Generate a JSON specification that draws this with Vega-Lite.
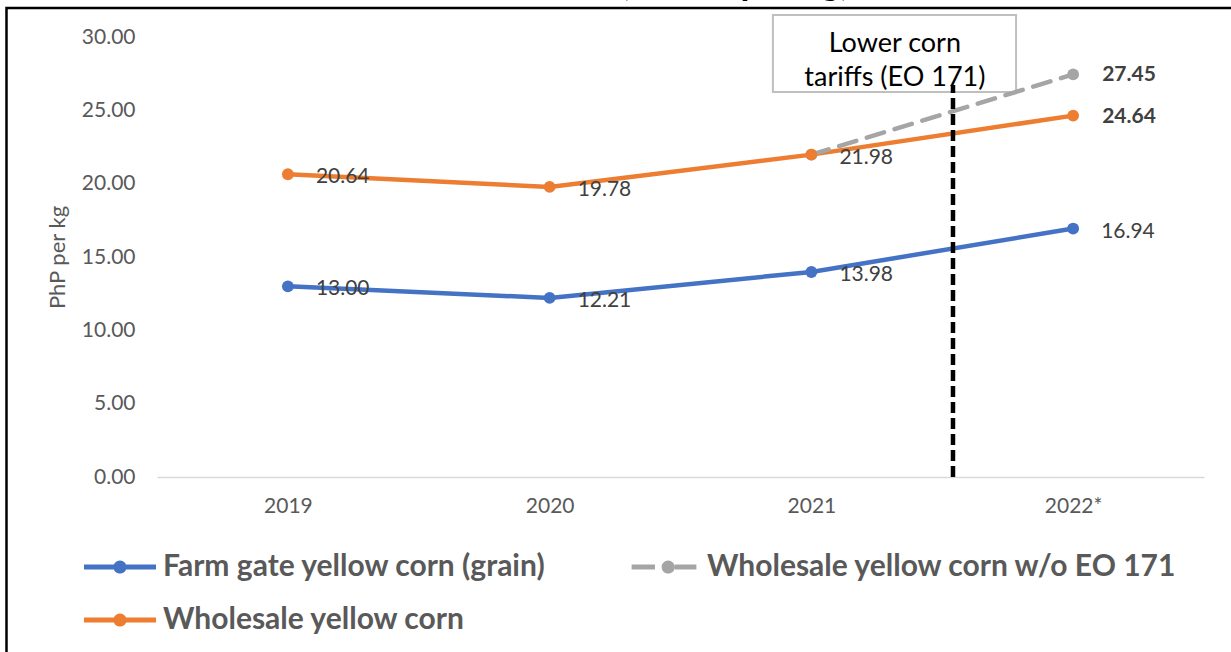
{
  "$schema": "https://vega.github.io/schema/vega-lite/v6.json",
  "width": 1047,
  "height": 440,
  "autosize": {"type": "none"},
  "padding": {"left": 157, "top": 37, "right": 27, "bottom": 175},
  "background": "#ffffff",
  "title": {
    "text": "Corn Prices (in PhP per kg)",
    "anchor": "start",
    "dx": 423,
    "offset": -24,
    "baseline": "alphabetic",
    "font": "Lato",
    "fontSize": 36,
    "fontWeight": "bold",
    "color": "#000000"
  },
  "config": {
    "view": {"stroke": null},
    "axis": {
      "labelFont": "Lato",
      "labelFontSize": 21,
      "labelColor": "#595959",
      "titleFont": "Lato",
      "titleFontSize": 22,
      "titleFontWeight": "normal",
      "titleColor": "#595959",
      "ticks": false,
      "grid": false
    }
  },
  "data": {
    "values": [
      {"year": 2021, "series": "Wholesale yellow corn w/o EO 171", "value": 21.98, "label": "none"},
      {"year": 2022, "series": "Wholesale yellow corn w/o EO 171", "value": 27.45, "label": "bold"},
      {"year": 2019, "series": "Farm gate yellow corn (grain)", "value": 13.0, "label": "regular"},
      {"year": 2020, "series": "Farm gate yellow corn (grain)", "value": 12.21, "label": "regular"},
      {"year": 2021, "series": "Farm gate yellow corn (grain)", "value": 13.98, "label": "regular"},
      {"year": 2022, "series": "Farm gate yellow corn (grain)", "value": 16.94, "label": "regular"},
      {"year": 2019, "series": "Wholesale yellow corn", "value": 20.64, "label": "regular"},
      {"year": 2020, "series": "Wholesale yellow corn", "value": 19.78, "label": "regular"},
      {"year": 2021, "series": "Wholesale yellow corn", "value": 21.98, "label": "regular"},
      {"year": 2022, "series": "Wholesale yellow corn", "value": 24.64, "label": "bold"}
    ]
  },
  "layer": [
    {
      "data": {"values": [{"x": 2017.925, "x2": 2024.5, "y": 31.98, "y2": -25}]},
      "mark": {"type": "rect", "fill": null, "stroke": "#000000", "strokeWidth": 2.5},
      "encoding": {
        "x": {"field": "x", "type": "quantitative", "title": null,
              "scale": {"domain": [2018.5, 2022.5], "nice": false, "zero": false},
              "axis": {"values": [2019, 2020, 2021, 2022], "labelExpr": "datum.value == 2022 ? '2022*' : format(datum.value, 'd')", "domainColor": "#D9D9D9", "domainWidth": 1.5, "labelPadding": 18}},
        "x2": {"field": "x2"},
        "y": {"field": "y", "type": "quantitative", "title": "PhP per kg",
              "scale": {"domain": [0, 30], "nice": false},
              "axis": {"values": [0, 5, 10, 15, 20, 25, 30], "format": ".2f", "domain": false, "labelPadding": 22, "titlePadding": 12}},
        "y2": {"field": "y2"}
      }
    },
    {
      "data": {"values": [{"x": 2020.853, "x2": 2021.782, "y": 31.5, "y2": 26.25}]},
      "mark": {"type": "rect", "fill": "#ffffff", "stroke": "#BFBFBF", "strokeWidth": 2},
      "encoding": {
        "x": {"field": "x", "type": "quantitative", "title": null},
        "x2": {"field": "x2"},
        "y": {"field": "y", "type": "quantitative", "title": "PhP per kg"},
        "y2": {"field": "y2"}
      }
    },
    {
      "data": {"values": [
        {"x": 2021.319, "y": 29.52, "note": "Lower corn"},
        {"x": 2021.319, "y": 27.2, "note": "tariffs (EO 171)"}
      ]},
      "mark": {"type": "text", "font": "Lato", "fontSize": 27, "color": "#000000", "align": "center", "baseline": "middle"},
      "encoding": {
        "x": {"field": "x", "type": "quantitative", "title": null},
        "y": {"field": "y", "type": "quantitative", "title": "PhP per kg"},
        "text": {"field": "note"}
      }
    },
    {
      "transform": [{"filter": "datum.series !== 'Wholesale yellow corn w/o EO 171'"}],
      "mark": {"type": "line", "strokeWidth": 4.5, "strokeCap": "round"},
      "encoding": {
        "x": {"field": "year", "type": "quantitative", "title": null},
        "y": {"field": "value", "type": "quantitative", "title": "PhP per kg"},
        "color": {"field": "series", "type": "nominal"}
      }
    },
    {
      "transform": [{"filter": "datum.series === 'Wholesale yellow corn w/o EO 171'"}],
      "mark": {"type": "line", "strokeWidth": 4.5, "strokeDash": [18, 11], "strokeCap": "round"},
      "encoding": {
        "x": {"field": "year", "type": "quantitative", "title": null},
        "y": {"field": "value", "type": "quantitative", "title": "PhP per kg"},
        "color": {"field": "series", "type": "nominal"}
      }
    },
    {
      "mark": {"type": "point", "filled": true, "size": 140, "opacity": 1},
      "encoding": {
        "x": {"field": "year", "type": "quantitative", "title": null},
        "y": {"field": "value", "type": "quantitative", "title": "PhP per kg"},
        "color": {"field": "series", "type": "nominal",
                  "scale": {"domain": ["Farm gate yellow corn (grain)", "Wholesale yellow corn w/o EO 171", "Wholesale yellow corn"], "range": ["#4472C4", "#A5A5A5", "#ED7D31"]},
                  "legend": {
                    "title": null,
                    "orient": "none",
                    "direction": "horizontal",
                    "legendX": -52,
                    "legendY": 515,
                    "columns": 2,
                    "columnPadding": 85,
                    "rowPadding": 23,
                    "padding": 0,
                    "symbolSize": 576,
                    "symbolStrokeWidth": 0,
                    "symbolOpacity": 1,
                    "labelFont": "Lato",
                    "labelFontSize": 30,
                    "labelFontWeight": "bold",
                    "labelColor": "#595959",
                    "labelOffset": 28,
                    "labelLimit": 1000,
                    "labelBaseline": "middle",
                    "encode": {
                      "symbols": {
                        "update": {
                          "fill": {"scale": "color", "field": "value"},
                          "strokeWidth": {"value": 0},
                          "shape": {"signal": "datum.value === 'Wholesale yellow corn w/o EO 171' ? 'M-2.7,-0.2L-0.75,-0.2L-0.75,0.2L-2.7,0.2Z M0.9,-0.2L2.7,-0.2L2.7,0.2L0.9,0.2Z M0.9,0A0.55,0.55,0,1,1,-0.2,0A0.55,0.55,0,1,1,0.9,0Z' : 'M-3,-0.2L3,-0.2L3,0.2L-3,0.2Z M0.55,0A0.55,0.55,0,1,1,-0.55,0A0.55,0.55,0,1,1,0.55,0Z'"}
                        }
                      }
                    }
                  }}
      }
    },
    {
      "data": {"values": [{"x": 2021.541, "y": 0, "y2": 26.73}]},
      "mark": {"type": "rule", "color": "#000000", "strokeWidth": 4.5, "strokeDash": [11, 5]},
      "encoding": {
        "x": {"field": "x", "type": "quantitative", "title": null},
        "y": {"field": "y", "type": "quantitative", "title": "PhP per kg"},
        "y2": {"field": "y2"}
      }
    },
    {
      "transform": [{"filter": "datum.label === 'regular'"}],
      "mark": {"type": "text", "font": "Lato", "fontSize": 21, "color": "#404040", "align": "left", "baseline": "middle", "dx": 28, "dy": 3},
      "encoding": {
        "x": {"field": "year", "type": "quantitative", "title": null},
        "y": {"field": "value", "type": "quantitative", "title": "PhP per kg"},
        "text": {"field": "value", "type": "quantitative", "format": ".2f"}
      }
    },
    {
      "transform": [{"filter": "datum.label === 'bold'"}],
      "mark": {"type": "text", "font": "Lato", "fontSize": 21, "fontWeight": "bold", "color": "#404040", "align": "left", "baseline": "middle", "dx": 29, "dy": 1},
      "encoding": {
        "x": {"field": "year", "type": "quantitative", "title": null},
        "y": {"field": "value", "type": "quantitative", "title": "PhP per kg"},
        "text": {"field": "value", "type": "quantitative", "format": ".2f"}
      }
    }
  ]
}
